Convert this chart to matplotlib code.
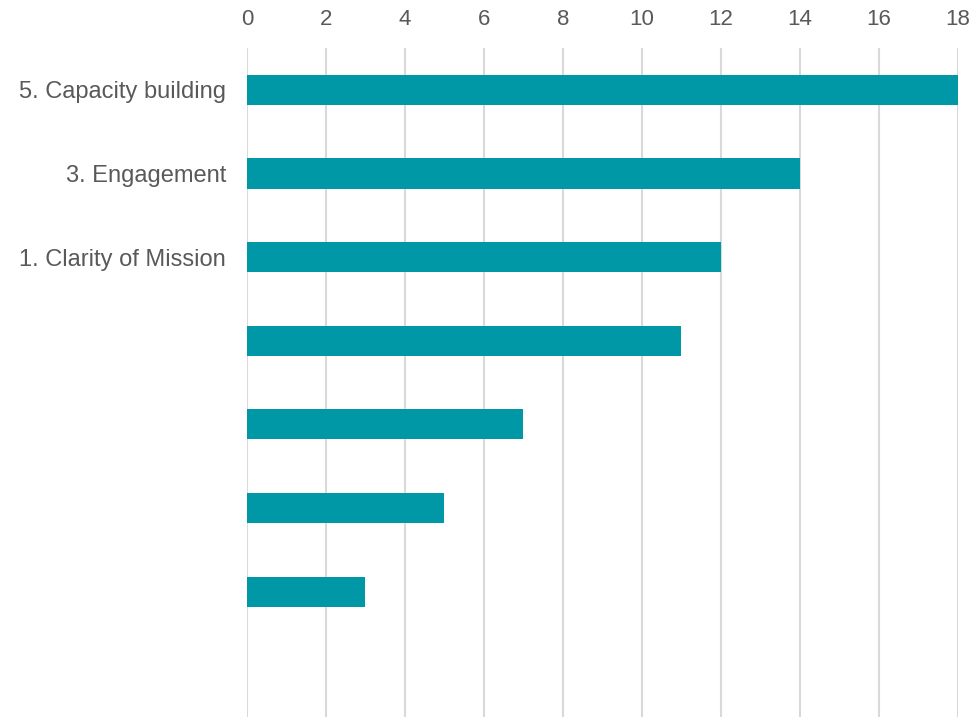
import matplotlib
matplotlib.use("Agg")
import matplotlib.pyplot as plt

# Categories from top to bottom; only the first three carry visible labels
categories = ["5. Capacity building", "3. Engagement", "1. Clarity of Mission",
              "", "", "", "", ""]
values = [18, 14, 12, 11, 7, 5, 3, 0]
x_ticks = [0, 2, 4, 6, 8, 10, 12, 14, 16, 18]

BAR_COLOR = "#0097a7"
GRID_COLOR = "#d9d9d9"
TEXT_COLOR = "#595959"

plt.rcParams["font.family"] = ["Liberation Sans", "DejaVu Sans"]

fig = plt.figure(figsize=(9.76, 7.17), dpi=100)
ax = fig.add_axes([0.253, 0.0, 0.7286, 0.933])

pos = list(range(len(categories)))
ax.barh(pos, values, height=0.36, color=BAR_COLOR, zorder=3)

ax.set_xlim(0, 18)
ax.set_ylim(len(categories) - 0.5, -0.5)
ax.set_xticks(x_ticks)
ax.set_yticks(pos)
ax.set_yticklabels(categories)

ax.xaxis.tick_top()
ax.tick_params(axis="x", length=0, pad=13, labelsize=16, labelcolor=TEXT_COLOR)
ax.tick_params(axis="y", length=0, pad=15, labelsize=17, labelcolor=TEXT_COLOR)

ax.grid(axis="x", color=GRID_COLOR, linewidth=1.5, zorder=0)
for s in ax.spines.values():
    s.set_visible(False)

fig.savefig("out.png", dpi=100)
